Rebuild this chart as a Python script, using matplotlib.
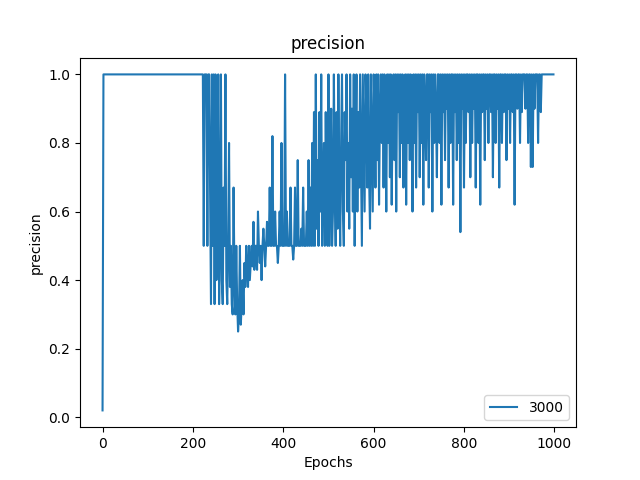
import matplotlib
matplotlib.use("Agg")
import matplotlib.pyplot as plt

start = [0.02] + [1.0] * 109  # epochs 0..218
noisy = [
    1, 1, 0.5, 1, 1, 1, 0.5, 1, 1, 0.67, 0.33, 1, 0.5, 1, 0.33, 1, 0.4, 0.5, 1, 0.33,
    0.5, 1, 0.4, 0.33, 0.67, 0.5, 1, 0.4, 0.33, 0.5, 0.8, 0.38, 0.5, 0.33, 0.3, 0.67, 0.4, 0.3, 0.5, 0.33,
    0.25, 0.3, 0.5, 0.27, 0.33, 0.4, 0.3, 0.45, 0.38, 0.5, 0.43, 0.38, 0.5, 0.4, 0.45, 0.5, 0.44, 0.57, 0.43, 0.5,
    0.5, 0.43, 0.6, 0.5, 0.45, 0.5, 0.4, 0.5, 0.55, 0.5, 0.44, 0.5, 0.57, 0.5, 0.5, 0.67, 0.5, 0.5, 0.82, 0.5,
    0.5, 0.6, 0.5, 0.5, 0.45, 0.5, 0.6, 0.5, 0.8, 0.5, 0.5, 0.5, 1.0, 0.5, 0.6, 0.5, 0.5, 0.5, 0.67, 0.5,
    0.5, 0.46, 0.5, 0.67, 0.5, 0.5, 0.75, 0.5, 0.5, 0.5, 0.55, 0.5, 0.67, 0.5, 0.5, 0.5, 0.6, 0.5, 0.75, 0.5,
    0.67, 0.5, 0.8, 0.5, 0.89, 0.5, 1, 0.55, 0.75, 0.5, 0.89, 0.6, 1, 0.5, 0.67, 0.8, 0.5, 0.89, 0.6, 0.5,
    1, 0.5, 0.75, 0.9, 0.5, 0.6, 1, 0.67, 0.5, 0.89, 0.55, 1, 0.67, 0.5, 0.8, 1, 0.6, 0.5, 0.89, 0.75,
    1, 0.6, 0.8, 0.55, 1, 0.7, 0.9, 0.6, 1, 0.5, 0.8, 1, 0.6, 0.89, 0.67, 1, 0.75, 0.5, 1, 0.8,
    0.6, 1, 0.89, 0.67, 1, 0.7, 0.55, 1, 0.8, 0.6, 1, 0.9, 0.67, 1, 0.75, 1, 0.62, 0.89, 1, 0.8,
    1, 0.67, 1, 0.89, 0.6, 1, 0.8, 1, 0.7, 1, 0.62, 0.9, 1, 0.75, 1, 0.6, 1, 0.89, 1, 0.7,
    1, 0.8, 1, 0.67, 0.9, 1, 0.62, 1, 0.8, 1, 0.75, 1, 0.9, 0.6, 1, 0.8, 1, 0.67, 1, 0.89,
    1, 0.7, 1, 0.8, 1, 0.62, 1, 0.9, 0.75, 1, 1, 0.67, 1, 0.89, 1, 0.6, 1, 0.8, 1, 0.9,
    0.7, 1, 1, 0.8, 1, 0.62, 1, 0.89, 1, 0.75, 1, 0.9, 1, 0.67, 1, 0.8, 1, 1, 0.62, 1,
    0.89, 1, 0.75, 1, 0.8, 1, 0.54, 1, 0.9, 1, 0.67, 1, 0.8, 1, 1, 0.89, 1, 0.7, 1, 0.8,
    1, 0.9, 1, 0.67, 1, 1, 0.8, 1, 0.62, 1, 0.89, 1, 1, 0.75, 1, 0.9, 1, 0.8, 1, 1,
    0.89, 1, 0.7, 1, 1, 0.8, 1, 0.9, 1, 0.67, 1, 1, 0.8, 1, 0.89, 1, 1, 0.75, 1, 0.9,
    1, 0.8, 1, 1, 0.89, 1, 0.62, 1, 1, 0.9, 1, 1, 0.8, 1, 0.89, 1, 1, 1, 0.9, 1,
    1, 0.8, 1, 1, 0.73, 1, 0.73, 1, 0.9, 1, 1, 1, 0.8, 1, 1, 0.89, 1, 1, 1, 1,
    1, 1, 1, 1, 1, 1, 1, 1, 1, 1,
]
precision = start + noisy
epochs = list(range(0, 2 * len(precision), 2))

plt.figure(figsize=(6.4, 4.8), dpi=100)
plt.plot(epochs, precision, label="3000")
plt.title("precision")
plt.xlabel("Epochs")
plt.ylabel("precision")
plt.legend(loc="lower right")
plt.savefig("out.png")
